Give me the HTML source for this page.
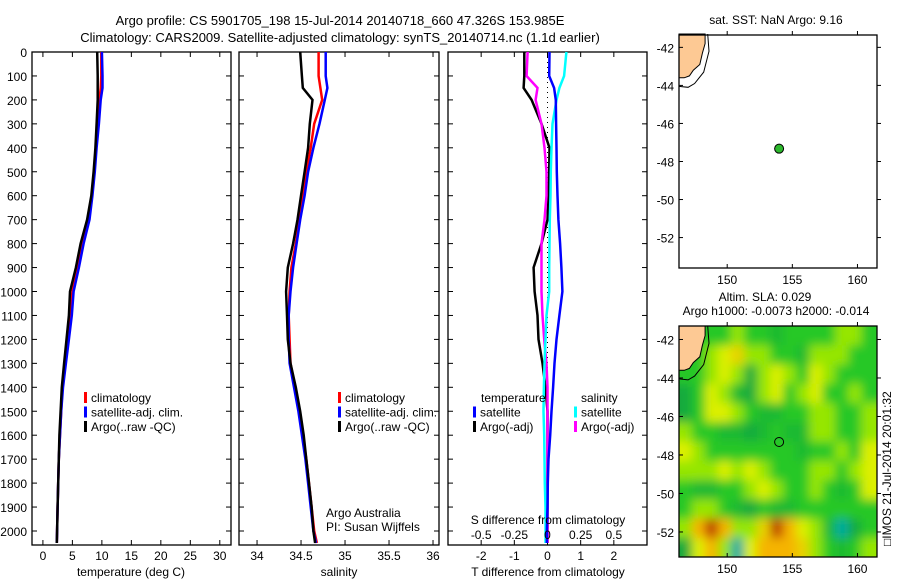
<!DOCTYPE html>
<html><head><meta charset="utf-8">
<style>
html,body{margin:0;padding:0;background:#fff;}
svg{display:block;font-family:"Liberation Sans",Arial,sans-serif;}
</style></head>
<body>
<svg id="fig" width="900" height="580" viewBox="0 0 900 580" xmlns="http://www.w3.org/2000/svg">
<defs>
<filter id="blur" x="-5%" y="-5%" width="110%" height="110%"><feGaussianBlur stdDeviation="5" edgeMode="duplicate"/></filter>
<clipPath id="slaclip"><rect x="679" y="326" width="198" height="231"/></clipPath>
</defs>
<text x="340" y="25" font-size="13" text-anchor="middle">Argo profile: CS 5901705_198 15-Jul-2014 20140718_660 47.326S 153.985E</text>
<text x="340" y="42" font-size="13" text-anchor="middle">Climatology: CARS2009. Satellite-adjusted climatology: synTS_20140714.nc (1.1d earlier)</text>
<g id="g"></g>
</svg>
<script>
// ---- profile data ----
const depths = [0,100,150,200,300,400,500,600,700,800,900,1000,1100,1200,1300,1400,1500,1600,1700,1800,1900,2000,2050];
const tempClim = [9.9,9.9,9.8,9.6,9.3,9.0,8.7,8.3,7.7,6.7,5.9,5.0,4.7,4.2,3.7,3.3,3.1,2.9,2.7,2.6,2.5,2.4,2.35];
const tempSat  = [10.0,10.1,10.1,9.8,9.5,9.1,8.8,8.4,7.9,6.9,6.1,5.2,4.9,4.4,3.9,3.4,3.1,2.9,2.7,2.6,2.5,2.4,2.35];
const tempArgo = [9.2,9.3,9.3,9.3,9.1,8.9,8.6,8.2,7.5,6.4,5.6,4.6,4.4,4.0,3.6,3.2,3.0,2.8,2.7,2.6,2.5,2.4,2.35];
const salClim = [34.70,34.70,34.72,34.74,34.65,34.61,34.56,34.52,34.48,34.44,34.39,34.37,34.36,34.37,34.38,34.43,34.48,34.52,34.56,34.59,34.62,34.65,34.68];
const salSat  = [34.78,34.78,34.80,34.77,34.71,34.64,34.58,34.54,34.49,34.45,34.41,34.38,34.36,34.36,34.37,34.42,34.47,34.51,34.55,34.58,34.61,34.64,34.67];
const salArgo = [34.49,34.51,34.52,34.63,34.60,34.58,34.54,34.50,34.46,34.41,34.35,34.33,34.34,34.35,34.38,34.44,34.49,34.53,34.56,34.59,34.62,34.64,34.66];
const dTSat  = [0.06,0.05,0.2,0.25,0.26,0.27,0.28,0.30,0.33,0.38,0.42,0.45,0.36,0.27,0.21,0.17,0.12,0.08,0.03,0.01,0.0,-0.02,-0.02];
const dTArgo = [-0.70,-0.70,-0.72,-0.48,-0.18,0.06,0.05,0.03,0.0,-0.18,-0.42,-0.39,-0.30,-0.27,-0.15,-0.06,0.0,0.0,0.0,0.0,0.0,0.0,0.0];
const dSSat  = [0.57,0.50,0.36,0.27,0.15,0.12,0.10,0.09,0.07,0.06,0.05,0.05,-0.03,-0.06,-0.09,-0.11,-0.12,-0.10,-0.09,-0.08,-0.06,-0.06,-0.06];
const dSArgo = [-0.60,-0.63,-0.30,-0.36,-0.18,-0.09,-0.03,-0.03,-0.09,-0.18,-0.18,-0.18,-0.15,-0.10,-0.03,0.0,0.0,0.0,0.0,0.0,0.0,0.0,0.0];
const depthTicks = [0,100,200,300,400,500,600,700,800,900,1000,1100,1200,1300,1400,1500,1600,1700,1800,1900,2000];
const tTicks = [0,5,10,15,20,25,30];
const sTicks = [34,34.5,35,35.5,36];
const sTickLabels = ["34","34.5","35","35.5","36"];
const dTicks = [-2,-1,0,1,2];
const dsTickLabels = ["-0.5","-0.25","0","0.25","0.5"];
// ---- SLA map data (rows lat -41.8 .. -52.8, cols lon 146.8 .. 160.8) ----
const slaLats = [-41.8,-42.8,-43.8,-44.8,-45.8,-46.8,-47.8,-48.8,-49.8,-50.8,-51.8,-52.8];
const slaLons = [146.8,147.8,148.8,149.8,150.8,151.8,152.8,153.8,154.8,155.8,156.8,157.8,158.8,159.8,160.8];
const slaVals = [
[0,0,0,0,0.05,0,0,-0.05,0,0,0,0,0.05,0.05,0],
[0,0,0.05,0.1,0.15,0.05,0.05,0,0,-0.05,0.05,0.05,0.05,0,0],
[0,0,0.05,0.1,0.05,-0.1,0.05,0.1,0.05,0,0.1,0.05,0,0,0],
[-0.1,0,0.1,0.05,-0.05,-0.1,0.05,0.1,0,0.05,0.1,0,0,0.05,0],
[-0.1,0,0.1,0.1,0.05,0,-0.05,-0.05,0,0,0.05,0.05,0,0,0.05],
[0.05,0,0,-0.05,-0.05,-0.1,-0.05,0,-0.05,-0.05,0.05,0.05,0,0,0.05],
[0.1,0.05,0,0,0,0,0,0,0,-0.05,0,0,0.05,0,0.1],
[0.05,0.05,0.05,0.1,0.05,0.1,0.05,0,0,0,0.05,0.05,0,0.05,0.1],
[0,-0.05,-0.05,0,0,0.05,0.1,0.05,0,0,0.05,0,-0.05,0,0.1],
[0,0.05,0.05,0,-0.05,-0.1,0,-0.05,-0.05,0,0,0,0,0,0],
[0.05,0.2,0.3,0.2,0.05,0.05,0.15,0.3,0.2,0.1,0.05,-0.05,-0.2,-0.1,0],
[-0.1,0.1,0.2,0.05,-0.2,0.1,0.2,0.2,0.2,0.15,0.05,0,-0.05,0,0.05]];
const argoLon = 153.985, argoLat = -47.326;
const latTicks = [-42,-44,-46,-48,-50,-52];
const lonTicks = [150,155,160];

const NS="http://www.w3.org/2000/svg";
const G=document.getElementById('g');
function mk(tag,attrs,parent){const e=document.createElementNS(NS,tag);for(const k in attrs)e.setAttribute(k,attrs[k]);(parent||G).appendChild(e);return e;}
function txt(s,x,y,anchor,size,parent){const t=mk('text',{x:x,y:y,'text-anchor':anchor||'start','font-size':size||12},parent);t.textContent=s;return t;}

const Y0=52, Y1=545;
const yD = d => Y0 + d*0.2395;

function panel(name,x0,x1,xmin,xmax){
  const sx = v => x0 + (v-xmin)/(xmax-xmin)*(x1-x0);
  const g=mk('g',{});
  
  
  const r=mk('rect',{x:x0,y:Y0,width:x1-x0,height:Y1-Y0,fill:'none',stroke:'#000','stroke-width':1.3},g);
  
  
  depthTicks.forEach(d=>{
    const y=yD(d);
    mk('line',{x1:x0,y1:y,x2:x0+5,y2:y,stroke:'#000'},g);
    mk('line',{x1:x1,y1:y,x2:x1-5,y2:y,stroke:'#000'},g);
  });
  return {g,sx};
}
function series(p,name,xs,color){
  const pts=depths.map((d,i)=>p.sx(xs[i]).toFixed(1)+','+yD(d).toFixed(1)).join(' ');
  const l=mk('polyline',{points:pts,fill:'none',stroke:color,'stroke-width':2.5},p.g);
  
  
}
function legend(p,x,y,items){
  items.forEach((it,i)=>{
    mk('rect',{x:x,y:y+i*14.5-10,width:3,height:11,fill:it[1]},p.g);
    const t=txt(it[0],x+7,y+i*14.5,'start',12,p.g);
    
    
  });
}

depthTicks.forEach(d=>{
  const t=txt(String(d),27,yD(d)+5,'end',12);
  
  
});

const p1=panel('temperature-panel',32,231,-1.85,31.9);
tTicks.forEach(v=>{const x=p1.sx(v);mk('line',{x1:x,y1:Y1,x2:x,y2:Y1-5,stroke:'#000'},p1.g);mk('line',{x1:x,y1:Y0,x2:x,y2:Y0+5,stroke:'#000'},p1.g);
  const t=txt(String(v),x,560,'middle',12,p1.g);});
series(p1,'temp-climatology-line',tempClim,'#f00');
series(p1,'temp-satellite-line',tempSat,'#00f');
series(p1,'temp-argo-line',tempArgo,'#000');
legend(p1,84,402,[['climatology','#f00'],['satellite-adj. clim.','#00f'],['Argo(..raw -QC)','#000']]);
{const t=txt('temperature (deg C)',131,576,'middle',12,p1.g);}

const p2=panel('salinity-panel',239,439,33.795,36.068);
sTicks.forEach((v,i)=>{const x=p2.sx(v);mk('line',{x1:x,y1:Y1,x2:x,y2:Y1-5,stroke:'#000'},p2.g);mk('line',{x1:x,y1:Y0,x2:x,y2:Y0+5,stroke:'#000'},p2.g);
  const t=txt(sTickLabels[i],x,560,'middle',12,p2.g);});
series(p2,'sal-climatology-line',salClim,'#f00');
series(p2,'sal-satellite-line',salSat,'#00f');
series(p2,'sal-argo-line',salArgo,'#000');
legend(p2,338,402,[['climatology','#f00'],['satellite-adj. clim.','#00f'],['Argo(..raw -QC)','#000']]);
{const t=txt('salinity',339,576,'middle',12,p2.g);}
{const t=txt('Argo Australia',326,517,'start',12,p2.g);
 const t2=txt('PI: Susan Wijffels',326,531,'start',12,p2.g);}

const p3=panel('difference-panel',448,647,-3,3);
mk('line',{x1:p3.sx(0),y1:Y0,x2:p3.sx(0),y2:Y1,stroke:'#000','stroke-dasharray':'1,4'},p3.g);
dTicks.forEach(v=>{const x=p3.sx(v);mk('line',{x1:x,y1:Y1,x2:x,y2:Y1-5,stroke:'#000'},p3.g);mk('line',{x1:x,y1:Y0,x2:x,y2:Y0+5,stroke:'#000'},p3.g);
  const t=txt(String(v),x,560,'middle',12,p3.g);});
series(p3,'dt-argo-line',dTArgo,'#000');
series(p3,'ds-argo-line',dSArgo,'#f0f');
series(p3,'ds-satellite-line',dSSat,'#0ff');
series(p3,'dt-satellite-line',dTSat,'#00f');
dTicks.forEach((v,i)=>{const t=txt(dsTickLabels[i],p3.sx(v),539,'middle',12,p3.g);});
{const t=txt('S difference from climatology',548,524,'middle',12,p3.g);}
{const t=txt('T difference from climatology',548,576,'middle',12,p3.g);}
{const t=txt('temperature',481,402,'start',12,p3.g);
 const t2=txt('salinity',581,402,'start',12,p3.g);}
legend(p3,473,416.5,[['satellite','#00f'],['Argo(-adj)','#000']]);
legend(p3,574,416.5,[['satellite','#0ff'],['Argo(-adj)','#f0f']]);

// ---- Maps ----
const MX0=679, MX1=877, LON0=146.3, LON1=161.5;
const mxs = lon => MX0 + (lon-LON0)/(LON1-LON0)*(MX1-MX0);
function mapAxes(name,top,bottom,latTop,latBot){
  const g=mk('g',{});
  
  
  const my = lat => top + (latTop-lat)/(latTop-latBot)*(bottom-top);
  return {g,my,top,bottom};
}
function mapFrame(m){
  const r=mk('rect',{x:MX0,y:m.top,width:MX1-MX0,height:m.bottom-m.top,fill:'none',stroke:'#000','stroke-width':1.3},m.g);
  
  
  latTicks.forEach(l=>{const y=m.my(l);mk('line',{x1:MX0,y1:y,x2:MX0+4,y2:y,stroke:'#000'},m.g);mk('line',{x1:MX1,y1:y,x2:MX1+4,y2:y,stroke:'#000'},m.g);
    const t=txt(String(l),674,y+5,'end',12,m.g);});
  lonTicks.forEach(l=>{const x=mxs(l);mk('line',{x1:x,y1:m.top,x2:x,y2:m.top-4,stroke:'#000'},m.g);mk('line',{x1:x,y1:m.bottom,x2:x,y2:m.bottom-4,stroke:'#000'},m.g);
    const t=txt(String(l),x,m.bottom+16,'middle',12,m.g);});
}
function tasmania(m){
  const pts=[[146.3,-41.3],[148.3,-41.3],[148.3,-41.8],[148.1,-42.3],[147.9,-42.9],[147.4,-43.2],[147.1,-43.5],[146.7,-43.6],[146.3,-43.6]];
  const p=mk('polygon',{points:pts.map(q=>mxs(q[0]).toFixed(1)+','+m.my(q[1]).toFixed(1)).join(' '),fill:'#fdc994',stroke:'#000','stroke-width':1},m.g);
  
  
  const c=[[148.5,-41.3],[148.6,-42.2],[148.2,-43.3],[147.5,-43.9],[147.0,-44.1],[146.3,-44.05]];
  const l=mk('polyline',{points:c.map(q=>mxs(q[0]).toFixed(1)+','+m.my(q[1]).toFixed(1)).join(' '),fill:'none',stroke:'#000','stroke-width':1},m.g);
  
  
}

const m1=mapAxes('sst-map',35,268,-41.35,-53.6);
tasmania(m1);
{const c=mk('circle',{cx:mxs(argoLon),cy:m1.my(argoLat),r:4.5,fill:'#2db82d',stroke:'#000'},m1.g);}
mapFrame(m1);
{const t=txt('sat. SST: NaN Argo: 9.16',776,24,'middle',12,m1.g);}

const m2=mapAxes('sla-map',326,557,-41.3,-53.3);
const stops=[[-0.3,[0,220,240]],[-0.2,[0,170,160]],[-0.1,[20,170,60]],[0,[40,200,40]],[0.05,[150,230,0]],[0.1,[220,240,0]],[0.2,[245,180,0]],[0.3,[190,60,0]]];
function cmap(v){
  if(v<=stops[0][0])return 'rgb('+stops[0][1]+')';
  for(let i=1;i<stops.length;i++){if(v<=stops[i][0]){const a=stops[i-1],b=stops[i],f=(v-a[0])/(b[0]-a[0]);return 'rgb('+a[1].map((c,k)=>Math.round(c+(b[1][k]-c)*f)).join(',')+')';}}
  return 'rgb('+stops[stops.length-1][1]+')';
}
const clipG=mk('g',{'clip-path':'url(#slaclip)'},m2.g);
const cellG=mk('g',{filter:'url(#blur)'},clipG);


const cw=(MX1-MX0)/slaLons.length;
const chh=(m2.my(-53.3)-m2.my(-41.3))/slaLats.length;
const nR=slaLats.length, nC=slaLons.length;
slaLats.forEach((lat,i)=>slaLons.forEach((lon,j)=>{
  let x=mxs(lon)-cw/2, y=m2.my(lat)-chh/2, w=cw+0.6, h=chh+0.6;
  if(j===0){x-=12;w+=12;} if(j===nC-1){w+=12;}
  if(i===0){y-=12;h+=12;} if(i===nR-1){h+=12;}
  const r=mk('rect',{x:x.toFixed(1),y:y.toFixed(1),width:w.toFixed(1),height:h.toFixed(1),fill:cmap(slaVals[i][j])},cellG);
  
  
}));
tasmania(m2);
{const c=mk('circle',{cx:mxs(argoLon),cy:m2.my(argoLat),r:4.5,fill:'none',stroke:'#000'},m2.g);}
mapFrame(m2);
{const t=txt('Altim. SLA: 0.029',765,301,'middle',12,m2.g);
 const t2=txt('Argo h1000: -0.0073 h2000: -0.014',776,315,'middle',12,m2.g);
 const t3=txt('\u25A1IMOS 21-Jul-2014 20:01:32',0,0,'start',12,m2.g);t3.setAttribute('transform','translate(891,546) rotate(-90)');}
</script>
</body></html>
